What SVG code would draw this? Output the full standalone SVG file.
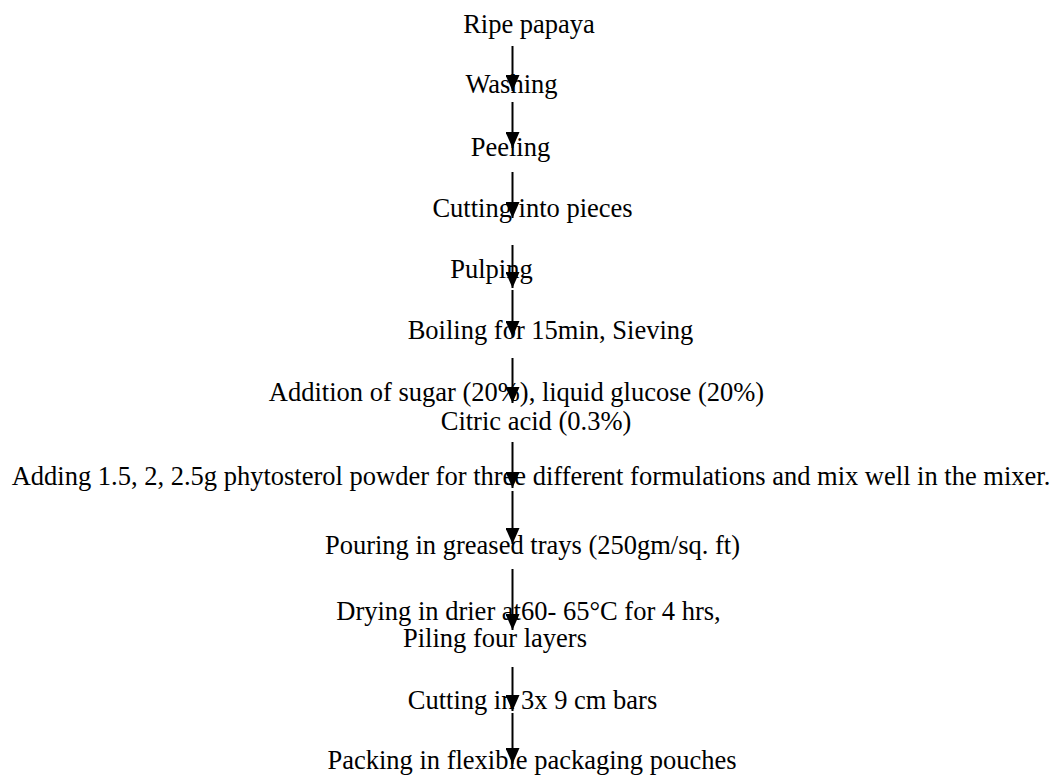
<svg xmlns="http://www.w3.org/2000/svg" width="1057" height="775" viewBox="0 0 1057 775">
<style>
text{font-family:"Liberation Serif","Times New Roman",serif;font-size:26.5px;fill:#000;text-anchor:middle}
.c line{stroke:#000;stroke-width:2}
</style>
<defs>
<marker id="a" markerUnits="userSpaceOnUse" markerWidth="16" markerHeight="14" refX="16" refY="7" orient="auto" viewBox="0 0 16 14">
<path d="M0,0 L16,7 L0,14 Z" fill="#000"/>
</marker>
</defs>
<rect width="1057" height="775" fill="#fff"/>
<g id="n1"><text x="529" y="33">Ripe papaya</text></g>
<g id="n2"><text x="511.5" y="93">Washing</text></g>
<g id="n3"><text x="510.5" y="156">Peeling</text></g>
<g id="n4"><text x="532.5" y="217">Cutting into pieces</text></g>
<g id="n5"><text x="491.5" y="278">Pulping</text></g>
<g id="n6"><text x="550.5" y="339">Boiling for 15min, Sieving</text></g>
<g id="n7"><text x="516.5" y="401">Addition of sugar (20%), liquid glucose (20%)</text><text x="536" y="430">Citric acid (0.3%)</text></g>
<g id="n8"><text x="531" y="485">Adding 1.5, 2, 2.5g phytosterol powder for three different formulations and mix well in the mixer.</text></g>
<g id="n9"><text x="532.5" y="554">Pouring in greased trays (250gm/sq. ft)</text></g>
<g id="n10"><text x="528.5" y="620">Drying in drier at60- 65°C for 4 hrs,</text><text x="495" y="647">Piling four layers</text></g>
<g id="n11"><text x="532.5" y="709">Cutting in 3x 9 cm bars</text></g>
<g id="n12"><text x="532" y="769">Packing in flexible packaging pouches</text></g>
<g id="connectors" class="c">
<line x1="512.5" y1="46" x2="512.5" y2="91" marker-end="url(#a)"/>
<line x1="512.5" y1="102" x2="512.5" y2="148" marker-end="url(#a)"/>
<line x1="512.5" y1="172" x2="512.5" y2="218" marker-end="url(#a)"/>
<line x1="512.5" y1="245" x2="512.5" y2="288" marker-end="url(#a)"/>
<line x1="512.5" y1="290" x2="512.5" y2="337" marker-end="url(#a)"/>
<line x1="512.5" y1="358" x2="512.5" y2="403" marker-end="url(#a)"/>
<line x1="512.5" y1="442" x2="512.5" y2="488" marker-end="url(#a)"/>
<line x1="512.5" y1="491" x2="512.5" y2="544" marker-end="url(#a)"/>
<line x1="512.5" y1="569" x2="512.5" y2="630" marker-end="url(#a)"/>
<line x1="512.5" y1="667" x2="512.5" y2="711" marker-end="url(#a)"/>
<line x1="512.5" y1="713" x2="512.5" y2="764" marker-end="url(#a)"/>
</g>
</svg>
